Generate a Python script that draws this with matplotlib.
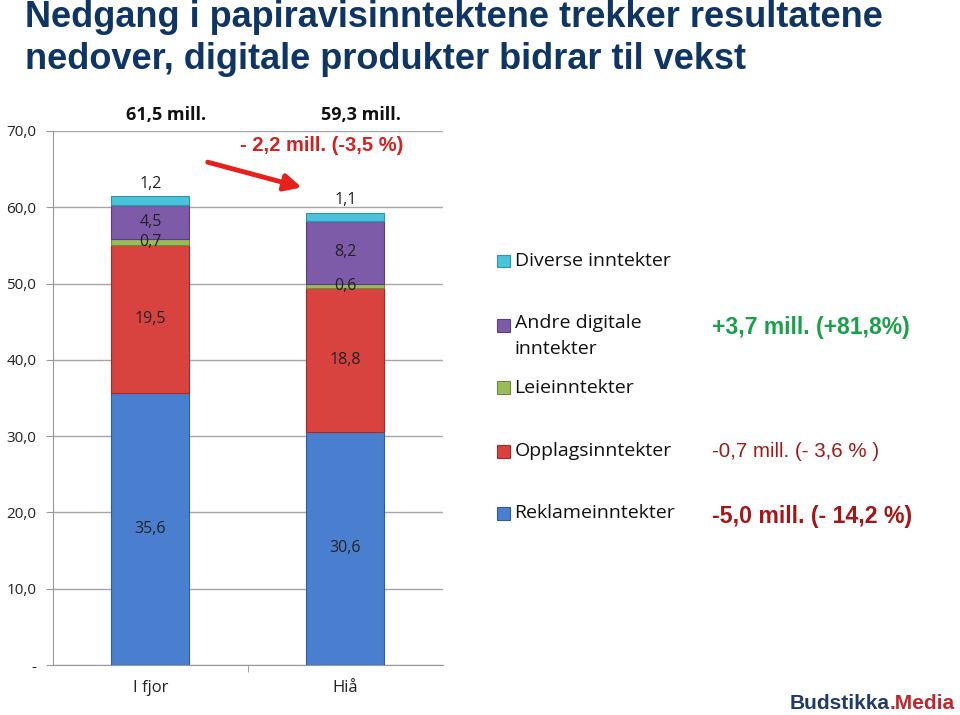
import matplotlib.pyplot as plt
import matplotlib.patches as mpatches
import numpy as np

plt.rcParams['font.family'] = ['Open Sans', 'DejaVu Sans']

categories = ['I fjor', 'Hiå']
series_names = ['Reklameinntekter', 'Opplagsinntekter', 'Leieinntekter',
                'Andre digitale\ninntekter', 'Diverse inntekter']
reklame = [35.6, 30.6]
opplag = [19.5, 18.8]
leie = [0.7, 0.6]
andre_digitale = [4.5, 8.2]
diverse = [1.2, 1.1]
totals_text = ['61,5 mill.', '59,3 mill.']

colors = ['#4A7FD0', '#D9433F', '#9BBB59', '#7E5BA8', '#4BC3DA']
edges = ['#2E5C9E', '#A52A27', '#6E8C35', '#5A3D80', '#2E95AA']


def fmt(v):
    return ('%.1f' % v).replace('.', ',')


fig = plt.figure(figsize=(9.6, 7.15), dpi=100)
ax = fig.add_axes([0.0552, 0.0699, 0.406, 0.747])

x = np.arange(len(categories))
bottom = np.zeros(len(categories))
series = [reklame, opplag, leie, andre_digitale, diverse]
for ii, vals in enumerate(series):
    vals = np.array(vals)
    ax.bar(x, vals, width=0.4, bottom=bottom, color=colors[ii],
           edgecolor=edges[ii], linewidth=0.8, zorder=3)
    for jj in range(len(x)):
        if ii == len(series) - 1:
            ax.annotate(fmt(vals[jj]), (x[jj], bottom[jj] + vals[jj]),
                        xytext=(0, 3), textcoords='offset points',
                        ha='center', va='bottom', fontsize=11.5, color='#222222')
        else:
            ax.text(x[jj], bottom[jj] + vals[jj] / 2, fmt(vals[jj]),
                    ha='center', va='center', fontsize=11.5, color='#222222',
                    zorder=4)
    bottom = bottom + vals

ax.set_xlim(-0.5, 1.5)
ax.set_ylim(0, 70)
ax.set_yticks(np.arange(0, 71, 10))
ax.set_yticklabels(['-'] + [fmt(v) for v in np.arange(10, 71, 10)],
                   fontsize=11, color='#222222')
ax.set_xticks(x)
ax.set_xticklabels(categories, fontsize=12, color='#222222')
ax.set_xticks([0.5], minor=True)
ax.tick_params(axis='x', which='major', length=0, pad=11)
ax.tick_params(axis='x', which='minor', length=5, color='#999999')
ax.tick_params(axis='y', length=5, color='#999999', pad=7)
ax.grid(axis='y', color='#A6A6A6', linewidth=1, zorder=0)
for s in ['top', 'right']:
    ax.spines[s].set_visible(False)
for s in ['left', 'bottom']:
    ax.spines[s].set_color('#999999')

# totals above the plot
for jj in range(len(x)):
    ax.annotate(totals_text[jj], (x[jj], 70), xytext=(11, 5),
                textcoords='offset points', ha='center', va='bottom',
                fontsize=13, fontweight='bold', color='#111111')

# change annotation with arrow
fig.text(0.25, 0.796, '- 2,2 mill. (-3,5 %)', fontsize=14.5, fontweight='bold',
         color='#D42020', family='Liberation Sans', va='center')
ax.annotate('', xy=(0.79, 62.5), xytext=(0.28, 66.0),
            arrowprops=dict(arrowstyle='-|>,head_length=1.0,head_width=0.5',
                            color='#E8201C', lw=3.5))

# legend (drawn manually to mirror the layout)
leg_y = [0.282, 0.369, 0.458, 0.545, 0.635]
for ii in range(len(series)):
    yy = leg_y[ii]
    fig.add_artist(mpatches.Rectangle((0.5175, yy - 0.009), 0.0135, 0.018,
                                      transform=fig.transFigure,
                                      facecolor=colors[ii], edgecolor=edges[ii],
                                      linewidth=0.8))
    if ii == 3:
        fig.text(0.536, yy + 0.016, series_names[ii], fontsize=14,
                 color='#111111', va='top', linespacing=1.6)
    else:
        fig.text(0.536, yy, series_names[ii], fontsize=14,
                 color='#111111', va='center')

fig.text(0.742, 0.542, '+3,7 mill. (+81,8%)', fontsize=16.5, fontweight='bold',
         color='#1AA048', family='Liberation Sans', va='center')
fig.text(0.742, 0.369, '-0,7 mill. (- 3,6 % )', fontsize=14.8,
         color='#A01818', family='Liberation Sans', va='center')
fig.text(0.742, 0.278, '-5,0 mill. (- 14,2 %)', fontsize=16.7, fontweight='bold',
         color='#A51515', family='Liberation Sans', va='center')

# title
fig.text(0.026, 1.0, 'Nedgang i papiravisinntektene trekker resultatene\n'
         'nedover, digitale produkter bidrar til vekst',
         fontsize=26, fontweight='bold', color='#0F3564',
         family='Liberation Sans', va='top', linespacing=1.25)

# logo
media = fig.text(0.995, 0.003, '.Media', fontsize=15, fontweight='bold',
                 color='#C0272D', va='bottom', ha='right',
                 family='Liberation Sans')
ax.annotate('Budstikka', xy=(0, 0), xycoords=media, va='bottom', ha='right',
            fontsize=15, fontweight='bold', color='#1F3A6B',
            family='Liberation Sans', annotation_clip=False)

fig.savefig('out.png', dpi=100)
